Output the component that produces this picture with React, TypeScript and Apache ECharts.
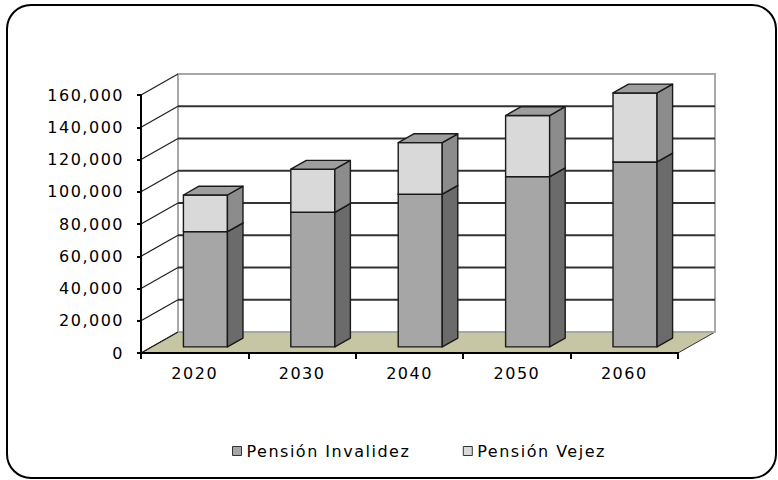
import React, { useEffect, useRef } from "react";
import * as echarts from "echarts";

const categories = ["2020", "2030", "2040", "2050", "2060"];
const invalidez = [71500, 83500, 94700, 105600, 114700];
const vejez = [22700, 26700, 32000, 37900, 42800];
const yTicks = [0, 20000, 40000, 60000, 80000, 100000, 120000, 140000, 160000];
const seriesNames = ["Pensión Invalidez", "Pensión Vejez"];

// 3D projection settings
const DX = 37;
const DY = -21;
const D0 = 0.29;
const D1 = 0.71;
const BAR_W = 0.41;

const fmt = (v: number) => String(v).replace(/\B(?=(\d{3})+(?!\d))/g, ",");

export default function App() {
  const ref = useRef<HTMLDivElement>(null);
  useEffect(() => {
    document.body.style.margin = "0";
    const chart = echarts.init(ref.current as HTMLDivElement, null, { renderer: "svg" });
    const yMax = yTicks[yTicks.length - 1];

    const frameItem = (params: any, api: any) => {
      const cs = params.coordSys;
      const x0 = cs.x;
      const x1 = cs.x + cs.width;
      const y0 = api.coord([0, yTicks[0]])[1];
      const yT = api.coord([0, yMax])[1];
      return {
        type: "group",
        children: [
          {
            type: "polygon",
            shape: { points: [[x0, y0], [x1, y0], [x1 + DX, y0 + DY], [x0 + DX, y0 + DY]] },
            style: { fill: "#c6c6a4", stroke: "#333", lineWidth: 1 },
          },
          {
            type: "rect",
            shape: { x: x0 + DX, y: yT + DY, width: x1 - x0, height: y0 - yT },
            style: { fill: "none", stroke: "#a8a8a8", lineWidth: 2 },
          },
        ],
      };
    };

    const gridItem = (params: any, api: any) => {
      const cs = params.coordSys;
      const x0 = cs.x;
      const x1 = cs.x + cs.width;
      const v = api.value(1);
      const y = api.coord([0, v])[1];
      const children: any[] = [
        {
          type: "line",
          shape: { x1: x0, y1: y, x2: x0 + DX, y2: y + DY },
          style: { stroke: "#222", lineWidth: 1.3 },
        },
      ];
      if (v > 0 && v < yMax) {
        children.push({
          type: "line",
          shape: { x1: x0 + DX, y1: y + DY, x2: x1 + DX, y2: y + DY },
          style: { stroke: "#333", lineWidth: 2 },
        });
      }
      return { type: "group", children };
    };

    const barItem = (front: string, side: string, top: string) => (params: any, api: any) => {
      const c = api.value(0);
      const b = api.value(1);
      const t = api.value(2);
      const band = api.size([1, 0])[0];
      const w = band * BAR_W;
      const pb = api.coord([c, b]);
      const pt = api.coord([c, t]);
      const ox = DX * D0;
      const oy = DY * D0;
      const bx = DX * (D1 - D0);
      const by = DY * (D1 - D0);
      const xl = pb[0] - w / 2 + ox;
      const xr = pb[0] + w / 2 + ox;
      const yb = pb[1] + oy;
      const yt = pt[1] + oy;
      const st = { stroke: "#1a1a1a", lineWidth: 1.4, lineJoin: "round" };
      return {
        type: "group",
        children: [
          { type: "polygon", shape: { points: [[xl, yb], [xr, yb], [xr, yt], [xl, yt]] }, style: { fill: front, ...st } },
          { type: "polygon", shape: { points: [[xr, yb], [xr + bx, yb + by], [xr + bx, yt + by], [xr, yt]] }, style: { fill: side, ...st } },
          { type: "polygon", shape: { points: [[xl, yt], [xr, yt], [xr + bx, yt + by], [xl + bx, yt + by]] }, style: { fill: top, ...st } },
        ],
      };
    };

    const invData = categories.map((_, i) => [i, 0, invalidez[i]]);
    const vejData = categories.map((_, i) => [i, invalidez[i], invalidez[i] + vejez[i]]);

    chart.setOption({
      animation: false,
      textStyle: { fontFamily: "DejaVu Sans", color: "#000" },
      grid: { left: 141, right: 100, top: 95, bottom: 127, containLabel: false },
      xAxis: {
        type: "category",
        data: categories,
        boundaryGap: true,
        z: 10,
        axisLine: { lineStyle: { color: "#000", width: 2 } },
        axisTick: { show: true, length: 6, lineStyle: { color: "#000", width: 2 } },
        axisLabel: { fontSize: 16, color: "#000", margin: 12 },
        splitLine: { show: false },
      },
      yAxis: {
        type: "value",
        min: 0,
        max: yMax,
        interval: 20000,
        z: 10,
        axisLine: { show: true, lineStyle: { color: "#000", width: 2 } },
        axisTick: { show: true, length: 4, lineStyle: { color: "#000", width: 2 } },
        axisLabel: { fontSize: 16, color: "#000", margin: 17, formatter: (v: number) => fmt(v) },
        splitLine: { show: false },
      },
      legend: {
        left: 227,
        top: 438,
        icon: "rect",
        itemWidth: 9,
        itemHeight: 9,
        itemGap: 78,
        textStyle: { fontSize: 16, color: "#000", fontFamily: "DejaVu Sans" },
        data: [
          { name: seriesNames[0], itemStyle: { color: "#a6a6a6", borderColor: "#333", borderWidth: 1 } },
          { name: seriesNames[1], itemStyle: { color: "#d9d9d9", borderColor: "#333", borderWidth: 1 } },
        ],
      },
      graphic: [
        {
          type: "rect",
          shape: { x: 7, y: 5, width: 769, height: 473, r: 24 },
          style: { fill: "none", stroke: "#000", lineWidth: 2 },
          silent: true,
        },
      ],
      series: [
        { type: "custom", name: "frame", z: 1, silent: true, renderItem: frameItem, encode: { x: 0, y: 1 }, data: [[0, 0]] },
        { type: "custom", name: "grid", z: 2, silent: true, renderItem: gridItem, encode: { x: 0, y: 1 }, data: yTicks.map((v) => [0, v]) },
        {
          type: "custom",
          name: seriesNames[0],
          z: 3,
          renderItem: barItem("#a6a6a6", "#6b6b6b", "#9a9a9a"),
          encode: { x: 0, y: [1, 2] },
          itemStyle: { color: "#a6a6a6", borderColor: "#333", borderWidth: 1 },
          data: invData,
        },
        {
          type: "custom",
          name: seriesNames[1],
          z: 4,
          renderItem: barItem("#d9d9d9", "#8c8c8c", "#9e9e9e"),
          encode: { x: 0, y: [1, 2] },
          itemStyle: { color: "#d9d9d9", borderColor: "#333", borderWidth: 1 },
          data: vejData,
        },
      ],
    });
    return () => chart.dispose();
  }, []);

  return (
    <>
      <style>{"#root svg text { letter-spacing: 1.5px; }"}</style>
      <div ref={ref} style={{ width: 778, height: 480 }} />
    </>
  );
}
